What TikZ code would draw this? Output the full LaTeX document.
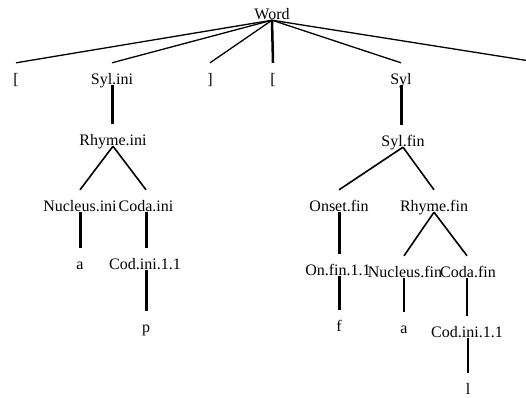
\documentclass[tikz,border=0pt]{standalone}
\usepackage{fontspec}
\setmainfont{Liberation Serif}
\begin{document}
\begin{tikzpicture}[x=1pt,y=-1pt,
  lbl/.style={inner sep=0pt,anchor=base,text height=21pt,text depth=1pt,font=\fontsize{16}{18}\selectfont},
  fan/.style={line width=1.3pt},
  thick3/.style={line width=3pt},
  mid/.style={line width=1.6pt},
  med/.style={line width=2pt}]
\useasboundingbox (0,0) rectangle (526,397);
% nodes
\node[lbl] (word) at (272,19) {Word};
\node[lbl] (lb1) at (16,84) {[};
\node[lbl] (si) at (112,84) {Syl.ini};
\node[lbl] (rb1) at (210,84) {]};
\node[lbl] (lb2) at (273,84) {[};
\node[lbl] (syl) at (401,84) {Syl};
\coordinate (rb2) at (530,61);
\node[lbl] (ri) at (113,145) {Rhyme.ini};
\node[lbl] (ni) at (80,211) {Nucleus.ini};
\node[lbl] (ci) at (146,211) {Coda.ini};
\node[lbl] (a1) at (80,269) {a};
\node[lbl] (cii) at (145,269) {Cod.ini.1.1};
\node[lbl] (p) at (146,332) {p};
\node[lbl] (sf) at (403,146) {Syl.fin};
\node[lbl] (of) at (339,211) {Onset.fin};
\node[lbl] (rf) at (434,211) {Rhyme.fin};
\node[lbl] (onf) at (338,275) {On.fin.1.1};
\node[lbl] (nf) at (405,277) {Nucleus.fin};
\node[lbl] (cf) at (468,277) {Coda.fin};
\node[lbl] (f) at (339,331) {f};
\node[lbl] (a2) at (404,333) {a};
\node[lbl] (cii2) at (467,337) {Cod.ini.1.1};
\node[lbl] (l) at (468,394) {l};
% connectors
\draw[fan] (word.south) -- (lb1.north);
\draw[fan] (word.south) -- (si.north);
\draw[fan] (word.south) -- (rb1.north);
\draw[line width=2.5pt] (word.south) -- (lb2.north);
\draw[fan] (word.south) -- (syl.north);
\draw[fan] (word.south) -- (rb2);
\draw[thick3] (si.south) -- (si.south |- ri.north);
\draw[thick3] (syl.south) -- (syl.south |- sf.north);
\draw[mid] (ri.south) -- (ni.north);
\draw[mid] (ri.south) -- (ci.north);
\draw[thick3] (ni.south) -- (ni.south |- a1.north);
\draw[thick3] (ci.south) -- (ci.south |- cii.north);
\draw[thick3] (ci.south |- cii.south) -- (ci.south |- p.north);
\draw[mid] (sf.south) -- (of.north);
\draw[mid] (sf.south) -- (rf.north);
\draw[thick3] (of.south) -- (of.south |- onf.north);
\draw[mid] (rf.south) -- ([xshift=-1pt]nf.north);
\draw[mid] (rf.south) -- ([xshift=-1pt]cf.north);
\draw[thick3] (of.south |- onf.south) -- (of.south |- f.north);
\draw[med] ([xshift=-1pt]nf.south) -- ([xshift=-1pt]nf.south |- a2.north);
\draw[med] ([xshift=-1pt]cf.south) -- ([xshift=-1pt]cf.south |- cii2.north);
\draw[med] (cii2.south -| l) -- (l.north);
\end{tikzpicture}
\end{document}
